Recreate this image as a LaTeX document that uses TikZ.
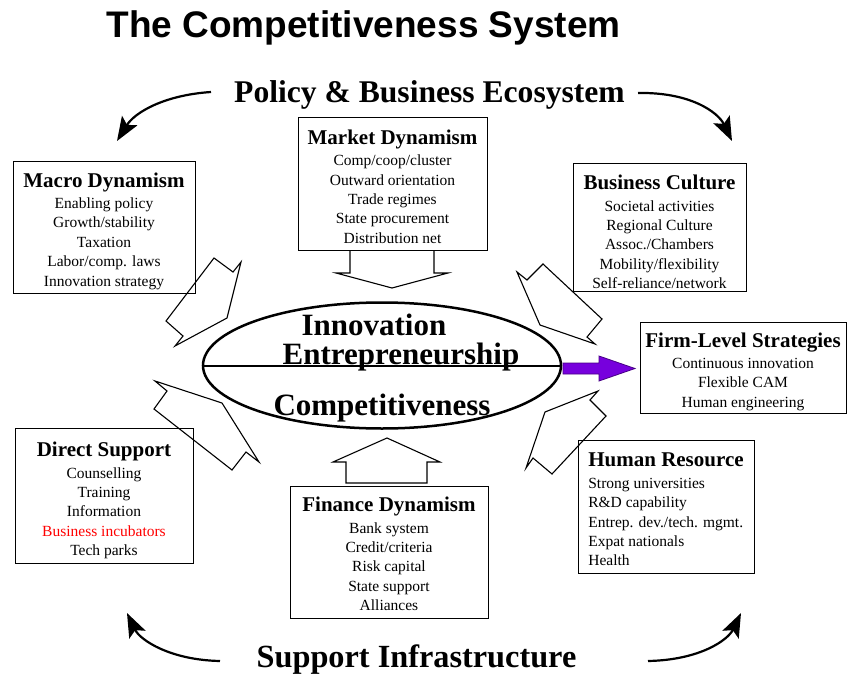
\documentclass[tikz,border=0pt]{standalone}
\usepackage{fontspec}
\setmainfont{Liberation Serif}
\newfontfamily\headfont{Liberation Sans}
\usetikzlibrary{arrows.meta, shapes.geometric}
\definecolor{arrowpurple}{RGB}{119,0,221}

\newcommand{\bodyfont}{\fontsize{15.5}{19.4}\selectfont}
\newcommand{\hd}[1]{{\fontsize{21}{23}\selectfont\bfseries #1}}

\tikzset{
  panel/.style={draw, line width=1pt, inner sep=0pt},
  paneltext/.style={align=center, font=\bodyfont, inner sep=0pt},
  blockarrow/.style={draw, line width=1.1pt, line join=miter},
  swing/.style={line width=2.2pt, -{Stealth[length=24pt,width=18pt,inset=5pt]}},
  big/.style={font=\fontsize{31}{34}\selectfont\bfseries},
}

\begin{document}
\begin{tikzpicture}[x=1pt, y=-1pt]
  \useasboundingbox (0,0) rectangle (847,675);
  % headings
  \node[anchor=base, font=\headfont\fontsize{37}{40}\selectfont\bfseries] (title) at (363.5,37) {The Competitiveness System};
  \node[anchor=base, font=\fontsize{31.6}{34}\selectfont\bfseries] (policy) at (429.5,102.5) {Policy \& Business Ecosystem};
  \node[anchor=base, font=\fontsize{32.3}{34}\selectfont\bfseries] (support) at (416.5,667) {Support Infrastructure};
  % curved arrows
  \coordinate (pl) at (211,92);
  \coordinate (pr) at (638,93);
  \coordinate (sl) at (220,661);
  \coordinate (sr) at (648,661);
  \coordinate (tl) at (117,141);
  \coordinate (tr) at (732,141);
  \coordinate (bl) at (127,613);
  \coordinate (br) at (741,613);
  \draw[swing] (pl) .. controls (165,95) and (135,112) .. (tl);
  \draw[swing] (pr) .. controls (690,92) and (718,112) .. (tr);
  \draw[swing] (sl) .. controls (170,660) and (140,640) .. (bl);
  \draw[swing] (sr) .. controls (700,660) and (728,640) .. (br);

  % boxes
  \node[panel, minimum width=189pt, minimum height=133pt] (market) at (392.5,183.5) {};
  \node[paneltext] (markettxt) at ([yshift=-3pt]market.center)
    {\hd{Market Dynamism}\\[2pt] Comp/coop/cluster\\ Outward orientation\\ Trade regimes\\ State procurement\\ Distribution net};
  \node[panel, minimum width=182pt, minimum height=132pt] (macro) at (104,227) {};
  \node[paneltext] (macrotxt) at ([yshift=-4pt]macro.center)
    {\hd{Macro Dynamism}\\[2pt] Enabling policy\\ Growth/stability\\ Taxation\\ Labor/comp. laws\\ Innovation strategy};
  \node[panel, minimum width=173pt, minimum height=128pt] (culture) at (659.5,227) {};
  \node[paneltext] (culturetxt) at ([yshift=-5pt]culture.center)
    {\hd{Business Culture}\\[2pt] Societal activities\\ Regional Culture\\ Assoc./Chambers\\ Mobility/flexibility\\ Self-reliance/network};
  \node[panel, minimum width=206pt, minimum height=91pt] (firm) at (743,367.5) {};
  \node[paneltext] (firmtxt) at ([yshift=-4pt]firm.center)
    {\hd{Firm-Level Strategies}\\[2pt] Continuous innovation\\ Flexible CAM\\ Human engineering};
  \node[panel, minimum width=178pt, minimum height=135pt] (direct) at (104,495.5) {};
  \node[paneltext] (directtxt) at ([yshift=-5pt]direct.center)
    {\hd{Direct Support}\\[2pt] Counselling\\ Training\\ Information\\ \textcolor{red}{Business incubators}\\ Tech parks};
  \node[panel, minimum width=176pt, minimum height=133pt] (human) at (666,506.5) {};
  \node[paneltext, align=left] (humantxt) at ([yshift=-3pt]human.center)
    {\hd{Human Resource}\\[2pt] Strong universities\\ R\&D capability\\ Entrep. dev./tech. mgmt.\\ Expat nationals\\ Health};
  \node[panel, minimum width=198pt, minimum height=132pt] (finance) at (389,552) {};
  \node[paneltext] (financetxt) at ([yshift=-2pt]finance.center)
    {\hd{Finance Dynamism}\\[2pt] Bank system\\ Credit/criteria\\ Risk capital\\ State support\\ Alliances};

  % centre
  \node[draw, ellipse, line width=2.5pt, minimum width=358pt, minimum height=126pt, inner sep=0pt] (core) at (382,365.5) {};
  \draw[line width=2pt] (core.west) -- (core.east);
  \node[anchor=base, big] (innov) at (374,335) {Innovation};
  \node[anchor=base, big] (entre) at (401,364) {Entrepreneurship};
  \node[anchor=base, big] (compet) at (382,415) {Competitiveness};

  % block arrows
  \draw[blockarrow] (350,250) -- (350,273) -- (336,273) -- (392,288) -- (448,273) -- (434,273) -- (434,250);
  \draw[blockarrow] (346,483) -- (346,462) -- (333,462) -- (387,438) -- (440,462) -- (427,462) -- (427,483) -- cycle;
  \draw[blockarrow] (214,258) -- (233,272) -- (241,262) -- (227,318) -- (175,346) -- (183,336) -- (166,321) -- cycle;
  \draw[blockarrow] (155,381) -- (222,403) -- (259,462) -- (246,452) -- (232,470) -- (154,409) -- (167,391) -- cycle;
  \draw[blockarrow] (517,272) -- (527,280) -- (543,264) -- (602,319) -- (587,337) -- (595,344) -- (540,325) -- cycle;
  \draw[blockarrow] (598,391) -- (545,412) -- (526,468) -- (533,458) -- (552,474) -- (606,416) -- (590,400) -- cycle;
  \draw[fill=arrowpurple, draw=arrowpurple!60!black, line width=0.8pt]
    (563,363) -- (599,363) -- (599,356) -- (635,368.5) -- (599,381) -- (599,374) -- (563,374) -- cycle;
\end{tikzpicture}
\end{document}
